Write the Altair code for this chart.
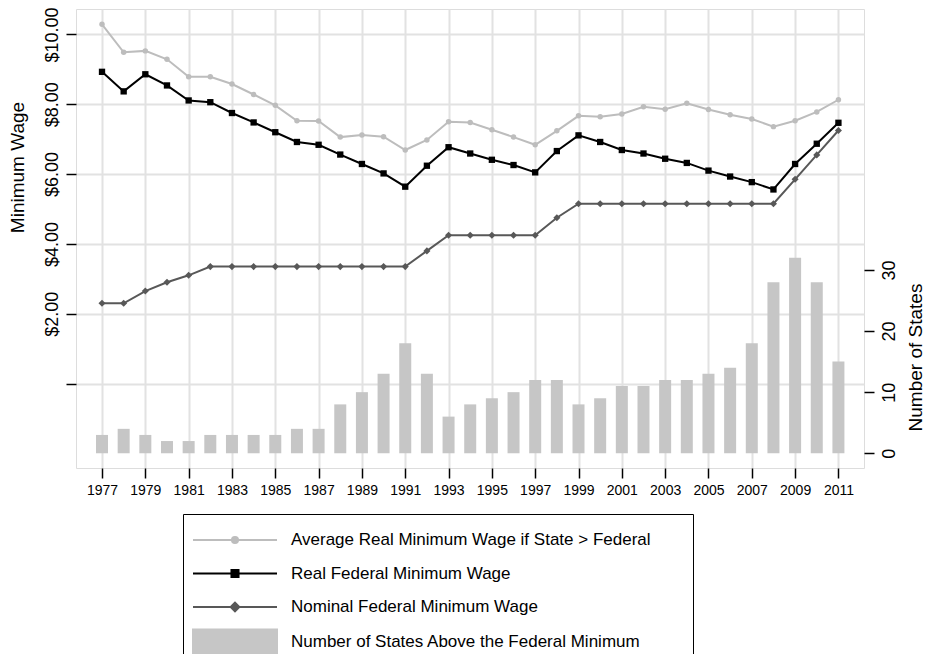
import altair as alt
import pandas as pd

years = list(range(1977, 2012))
avg_real = [10.29, 9.49, 9.53, 9.29, 8.79, 8.79, 8.58, 8.28, 7.97, 7.53, 7.52, 7.06,
            7.12, 7.07, 6.69, 6.98, 7.50, 7.48, 7.27, 7.06, 6.84, 7.24, 7.67, 7.64,
            7.72, 7.93, 7.86, 8.03, 7.85, 7.70, 7.58, 7.36, 7.53, 7.78, 8.13]
real_fed = [8.93, 8.37, 8.86, 8.54, 8.11, 8.06, 7.75, 7.48, 7.20, 6.92, 6.84, 6.56,
            6.29, 6.02, 5.64, 6.24, 6.77, 6.59, 6.41, 6.26, 6.05, 6.66, 7.11, 6.92,
            6.69, 6.59, 6.44, 6.32, 6.10, 5.93, 5.77, 5.56, 6.29, 6.87, 7.47]
nominal_fed = [2.30, 2.30, 2.65, 2.90, 3.10, 3.35, 3.35, 3.35, 3.35, 3.35, 3.35, 3.35,
               3.35, 3.35, 3.35, 3.80, 4.25, 4.25, 4.25, 4.25, 4.25, 4.75, 5.15, 5.15,
               5.15, 5.15, 5.15, 5.15, 5.15, 5.15, 5.15, 5.15, 5.85, 6.55, 7.25]
num_states = [3, 4, 3, 2, 2, 3, 3, 3, 3, 4, 4, 8, 10, 13, 18, 13, 6, 8, 9, 10, 12, 12,
              8, 9, 11, 11, 12, 12, 13, 14, 18, 28, 32, 28, 15]

series_names = [
    "Average Real Minimum Wage if State > Federal",
    "Real Federal Minimum Wage",
    "Nominal Federal Minimum Wage",
    "Number of States Above the Federal Minimum",
]
series_colors = ["#bdbdbd", "#000000", "#585858", "#c6c6c6"]
year_ticks = list(range(1977, 2012, 2))
wage_ticks = [0, 2, 4, 6, 8, 10]
state_ticks = [0, 10, 20, 30]

lines_df = pd.concat([
    pd.DataFrame({"year": years, "value": avg_real, "series": series_names[0]}),
    pd.DataFrame({"year": years, "value": nominal_fed, "series": series_names[2]}),
    pd.DataFrame({"year": years, "value": real_fed, "series": series_names[1]}),
], ignore_index=True)
bars_df = pd.DataFrame({"year": years, "count": num_states, "series": series_names[3]})

FONT = "Liberation Sans"
GRID = "#e2e2e2"

# legend symbol shapes (unit = 16 px): a line with its marker, and a grey box for the bars
sym_paths = [
    "M-2.625,0L2.625,0M-0.19,0A0.19,0.19,0,1,1,0.19,0A0.19,0.19,0,1,1,-0.19,0Z",
    "M-2.625,0L2.625,0M-0.22,-0.22L0.22,-0.22L0.22,0.22L-0.22,0.22Z",
    "M-2.625,0L2.625,0M-0.27,0L0,-0.27L0.27,0L0,0.27Z",
    "M-2.625,-0.75L2.625,-0.75L2.625,0.75L-2.625,0.75Z",
]
sym_expr = "[" + ",".join("'" + p + "'" for p in sym_paths) + "][datum.index]"
pad_str = "\u00a0" * 7 + "\u200b"

legend = alt.Legend(
    title=None,
    orient="none",
    legendX=107,
    legendY=505,
    direction="vertical",
    symbolType={"expr": sym_expr},
    symbolSize=1024,
    symbolStrokeWidth=2,
    symbolOpacity=1,
    symbolOffset=26,
    symbolFillColor={"expr": "scale('color', datum.value)"},
    symbolStrokeColor={"expr": "scale('color', datum.value)"},
    labelExpr="datum.index == 0 ? datum.label + '" + pad_str + "' : datum.label",
    labelFont=FONT,
    labelFontSize=17,
    labelColor="black",
    labelOffset=39,
    labelLimit=0,
    rowPadding=8.5,
    padding=9,
    strokeColor="black",
    fillColor="white",
)

color = alt.Color(
    "series:N",
    scale=alt.Scale(domain=series_names, range=series_colors),
    legend=legend,
)

x_enc = alt.X(
    "year:Q",
    scale=alt.Scale(domain=[1976.03, 2011.95], nice=False, zero=False),
    axis=alt.Axis(
        values=year_ticks, format="d", grid=True, gridColor=GRID, gridWidth=2,
        domain=False, tickColor="black", tickSize=10, tickWidth=1.5,
        labelFont=FONT, labelFontSize=14, labelColor="black", labelPadding=5,
        labelFlush=False, labelOverlap=False, title=None,
    ),
)

left_axis = alt.Axis(
    orient="left", values=wage_ticks,
    labelExpr="datum.value == 0 ? '' : '$' + format(datum.value, '.2f')",
    grid=True, gridColor=GRID, gridWidth=2, domain=False,
    tickColor="black", tickSize=10, tickWidth=1.5,
    labelAngle=270, labelAlign="center", labelBaseline="bottom", labelPadding=5,
    labelFont=FONT, labelFontSize=18, labelColor="black", labelFlush=False,
    title="Minimum Wage", titleFont=FONT, titleFontSize=19, titleFontWeight="normal",
    titleColor="black", titleAngle=270, titleX=-59, titleY=158,
    titleAlign="center", titleBaseline="middle",
)

right_axis = alt.Axis(
    orient="right", values=state_ticks, grid=False, domain=False,
    tickColor="black", tickSize=10, tickWidth=1.5,
    labelAngle=270, labelAlign="center", labelBaseline="top", labelPadding=6,
    labelFont=FONT, labelFontSize=18, labelColor="black", labelFlush=False,
    title="Number of States", titleFont=FONT, titleFontSize=19, titleFontWeight="normal",
    titleColor="black", titleAngle=270, titleX=51, titleY=348,
    titleAlign="center", titleBaseline="middle",
)

y_wage = alt.Y("value:Q", scale=alt.Scale(domain=[-2.42, 10.73], nice=False, zero=False),
               axis=left_axis)

bars = alt.Chart(bars_df).mark_bar(size=12, opacity=1).encode(
    x=x_enc,
    y=alt.Y("count:Q", scale=alt.Scale(domain=[-2.41, 72.7], nice=False, zero=False),
            axis=right_axis),
    y2=alt.datum(0),
    color=color,
)

line_series = series_names[:3]
lines = alt.Chart(lines_df).mark_line(strokeWidth=2).encode(
    x=x_enc, y=y_wage, color=color, detail="series:N",
)
points = alt.Chart(lines_df).mark_point(filled=True, opacity=1).encode(
    x=x_enc, y=y_wage, color=color,
    shape=alt.Shape("series:N", scale=alt.Scale(domain=line_series,
                    range=["circle", "square", "diamond"]), legend=None),
    size=alt.Size("series:N", scale=alt.Scale(domain=line_series, range=[30, 50, 55]),
                  legend=None),
)

chart = alt.layer(bars, alt.layer(lines, points)).resolve_scale(
    y="independent"
).properties(
    width=788,
    height=459,
    padding={"left": 68, "top": 1, "right": 60, "bottom": 186},
    autosize=alt.AutoSizeParams(type="none"),
    background="white",
).configure_view(
    stroke="#111111", strokeWidth=1.5,
).configure(font=FONT)

chart.save("out.html", embed_options={"renderer": "svg", "actions": False})
